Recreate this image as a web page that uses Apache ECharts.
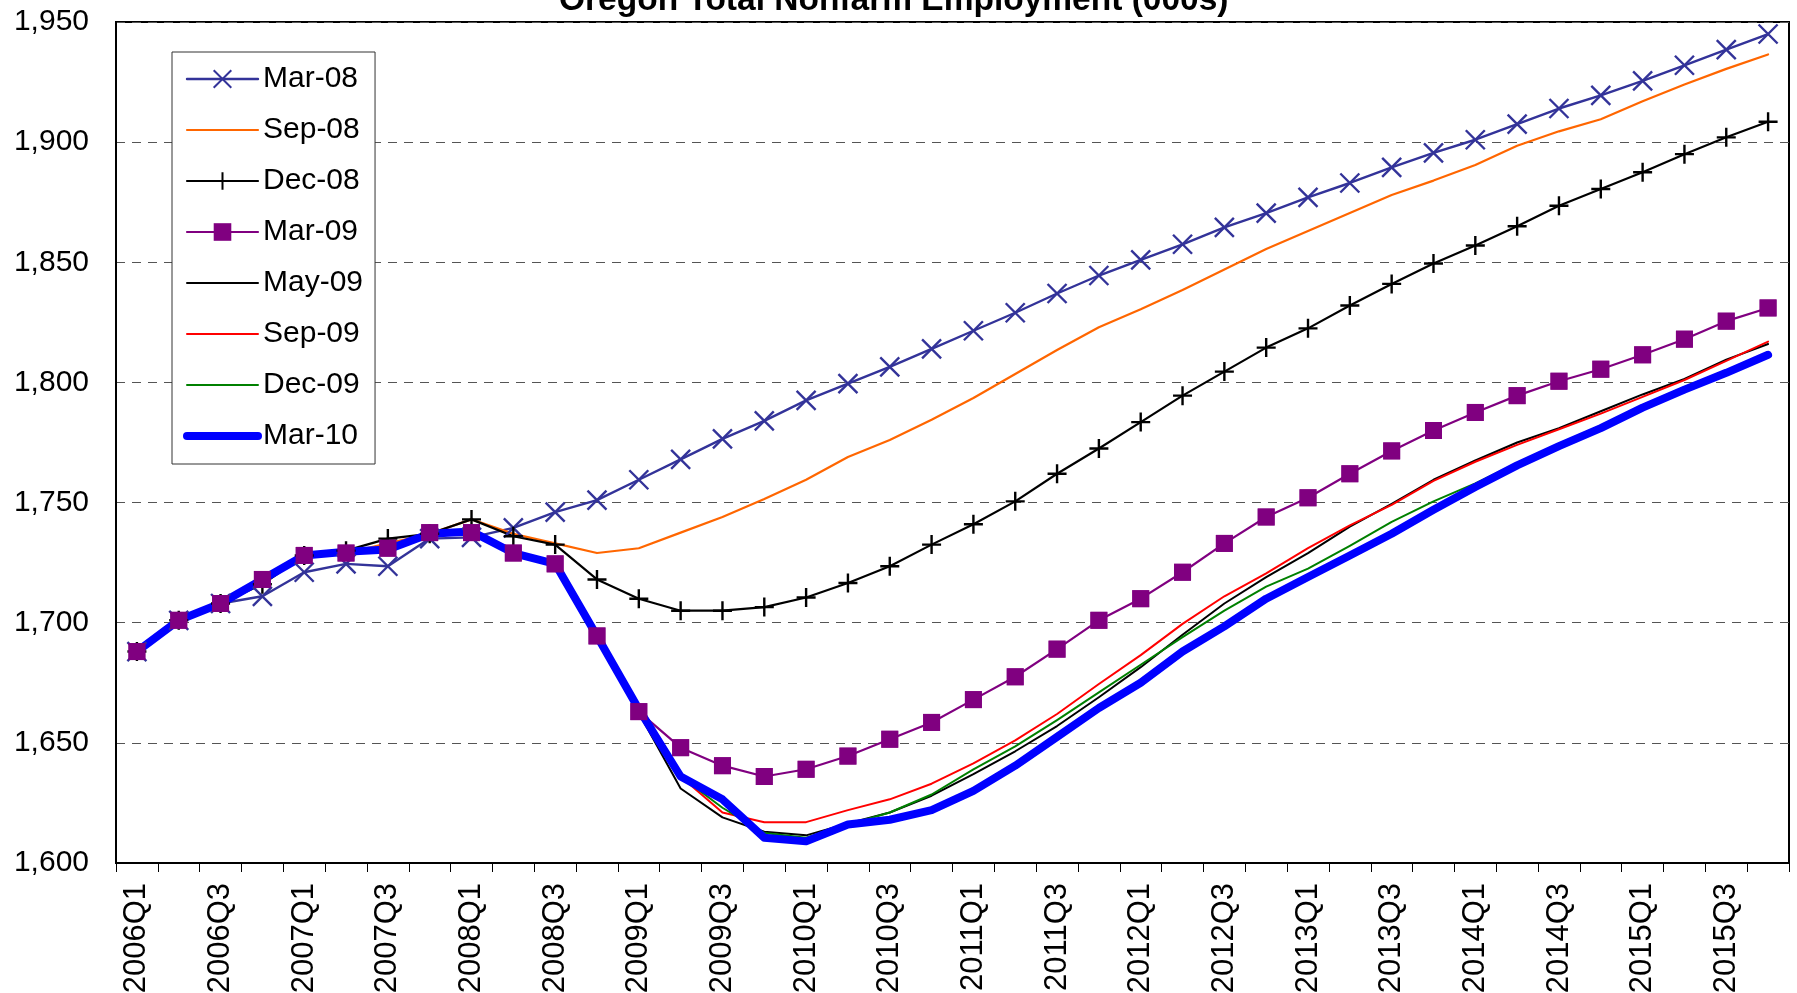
<!DOCTYPE html>
<html>
<head>
<meta charset="utf-8">
<script src="https://cdn.jsdelivr.net/npm/echarts@6/dist/echarts.min.js"></script>
<style>
  html, body { margin: 0; padding: 0; background: #fff; }
  #chart { width: 1797px; height: 993px; }
</style>
</head>
<body>
<div id="chart"></div>
<script>
// Quarterly categories
const quarters = [
  '2006Q1','2006Q2','2006Q3','2006Q4','2007Q1','2007Q2','2007Q3','2007Q4',
  '2008Q1','2008Q2','2008Q3','2008Q4','2009Q1','2009Q2','2009Q3','2009Q4',
  '2010Q1','2010Q2','2010Q3','2010Q4','2011Q1','2011Q2','2011Q3','2011Q4',
  '2012Q1','2012Q2','2012Q3','2012Q4','2013Q1','2013Q2','2013Q3','2013Q4',
  '2014Q1','2014Q2','2014Q3','2014Q4','2015Q1','2015Q2','2015Q3','2015Q4'
];

// Forecast vintages, thousands of jobs
const mar08 = [1688, 1701, 1708, 1711, 1721, 1724.5, 1723.5, 1735, 1735.5, 1739.5,
  1746, 1751, 1759.5, 1768, 1776.5, 1784, 1792.5, 1799.5, 1806.5, 1814,
  1821.5, 1829, 1837, 1844.5, 1851, 1857.5, 1864.5, 1870.5, 1877, 1883,
  1889.5, 1895.5, 1901, 1907.5, 1914, 1919.5, 1925.5, 1932, 1938.5, 1945];
const sep08 = [1688, 1701, 1708, 1717, 1728, 1729, 1733, 1737, 1743, 1737,
  1733, 1729, 1731, 1737.5, 1744, 1751.5, 1759.5, 1769, 1776, 1784.5,
  1793.5, 1803.5, 1813.5, 1823, 1830.5, 1838.5, 1847, 1855.5, 1863, 1870.5,
  1878, 1884, 1890.5, 1898.5, 1904.5, 1909.5, 1917, 1924, 1930.5, 1936.5];
const dec08 = [1688, 1701, 1708, 1716, 1728, 1730, 1735, 1737, 1743, 1736,
  1732.5, 1718, 1710, 1705, 1705, 1706.5, 1710.5, 1716.5, 1723.5, 1732.5,
  1741, 1750.5, 1762, 1772.5, 1783.5, 1794.5, 1804.5, 1814.5, 1822.5, 1832,
  1841, 1849.5, 1857, 1865, 1873.5, 1880.5, 1887.5, 1895, 1902, 1908.5];
const mar09 = [1688, 1701, 1708, 1718, 1728, 1729, 1731, 1737.5, 1737.5, 1729,
  1724.5, 1694.5, 1663, 1648, 1640.5, 1636, 1639, 1644.5, 1651.5, 1658.5,
  1668, 1677.5, 1689, 1701, 1710, 1721, 1733, 1744, 1752, 1762,
  1771.5, 1780, 1787.5, 1794.5, 1800.5, 1805.5, 1811.5, 1818, 1825.5, 1831];
const may09 = [1688, 1701, 1708, 1718, 1728, 1729, 1731, 1737, 1738, 1729,
  1724.5, 1694.5, 1662.5, 1631, 1619, 1613, 1611.5, 1616.5, 1621, 1628,
  1637, 1646.5, 1657, 1669, 1681.5, 1695, 1708, 1719, 1729, 1740,
  1749.5, 1759.5, 1767.5, 1775, 1781, 1788, 1795, 1801.5, 1809.5, 1816];
const sep09 = [1688, 1701, 1708, 1718, 1728, 1729, 1731, 1737, 1738, 1729,
  1724.5, 1694.5, 1663.5, 1636, 1621, 1617, 1617, 1622, 1626.5, 1633,
  1641.5, 1651, 1662, 1674.5, 1686.5, 1699.5, 1711, 1720.5, 1731, 1740.5,
  1749, 1759, 1767, 1774, 1780.5, 1787, 1794, 1801, 1809, 1817];
const dec09 = [1688, 1701, 1708, 1718, 1728, 1729, 1731, 1737, 1738, 1729,
  1724.5, 1694.5, 1663.5, 1636, 1623, 1612.5, 1610.5, 1616, 1621, 1628.5,
  1639, 1648.5, 1659.5, 1671, 1682.5, 1694, 1705, 1715, 1722.5, 1732,
  1742, 1750.5, 1758, 1766.5, 1774.5, 1782, 1790.5, 1798, 1805, 1812.5];
const mar10 = [1688, 1701, 1708, 1718, 1728, 1729.5, 1730.5, 1737, 1738, 1729,
  1724.5, 1694.5, 1664, 1636, 1626.5, 1610.5, 1609, 1616, 1618, 1622,
  1630, 1640.5, 1652.5, 1664.5, 1675, 1688, 1698.5, 1710, 1719, 1728,
  1737, 1747, 1756.5, 1765.5, 1773.5, 1781, 1789.5, 1797, 1804, 1811.5];

const seriesNames = ['Mar-08', 'Sep-08', 'Dec-08', 'Mar-09', 'May-09', 'Sep-09', 'Dec-09', 'Mar-10'];
const forecastStart = '2010Q1';

const FONT = "'Liberation Sans', Arial, sans-serif";
const CROSS = 'path://M0,0L1,1M1,0L0,1';
const PLUS = 'path://M0.5,0L0.5,1M0,0.5L1,0.5';

function line(name, data, color, width, symbol, size, z) {
  const s = {
    name: name,
    type: 'line',
    data: data,
    color: color,
    z: z,
    lineStyle: { color: color, width: width, cap: 'round', join: 'round' },
    symbol: symbol || 'none',
    symbolSize: size || 0,
    showSymbol: !!symbol,
    itemStyle: { color: color, borderColor: color, borderWidth: 0 },
    emphasis: { disabled: true },
    animation: false
  };
  if (symbol === CROSS || symbol === PLUS) {
    s.itemStyle.borderWidth = 2.4;
  }
  return s;
}

const seriesList = [
  line('Mar-08', mar08, '#333399', 2.4, CROSS, 19, 2),
  line('Sep-08', sep08, '#FF6600', 2.2, null, 0, 2),
  line('Dec-08', dec08, '#000000', 2.2, PLUS, 19, 2),
  line('Mar-09', mar09, '#800080', 2.2, 'rect', 17, 2),
  line('May-09', may09, '#000000', 2, null, 0, 2),
  line('Sep-09', sep09, '#FF0000', 2, null, 0, 2),
  line('Dec-09', dec09, '#008000', 2, null, 0, 2),
  line('Mar-10', mar10, '#0000FF', 8, null, 0, 2)
];

// Legend entries: plain lines carry no marker, widths follow their series
const legendItems = seriesList.map(function (s) {
  const item = { name: s.name, lineStyle: { width: s.lineStyle.width, color: s.lineStyle.color, cap: 'round' } };
  if (s.symbol === 'none') {
    item.itemStyle = { opacity: 0 };
  }
  return item;
});

const chart = echarts.init(document.getElementById('chart'), null, { renderer: 'canvas' });

chart.setOption({
  backgroundColor: '#ffffff',
  animation: false,
  title: {
    text: 'Oregon Total Nonfarm Employment (000s)',
    left: 559,
    top: -16,
    padding: 0,
    textStyle: { fontFamily: FONT, fontSize: 33.5, fontWeight: 'bold', color: '#000' }
  },
  legend: {
    data: legendItems,
    orient: 'vertical',
    left: 172,
    top: 52,
    padding: [12, 12, 13, 11],
    itemWidth: 71,
    itemHeight: 22,
    itemGap: 21,
    backgroundColor: '#ffffff',
    borderColor: '#333',
    borderWidth: 1,
    borderRadius: 0,
    selectedMode: false,
    textStyle: { fontFamily: FONT, fontSize: 30, color: '#000', lineHeight: 30 }
  },
  grid: {
    left: 116, right: 8, top: 22, bottom: 130,
    show: true,
    borderColor: '#000',
    borderWidth: 2,
    backgroundColor: 'transparent',
    containLabel: false,
    outerBoundsMode: 'none'
  },
  xAxis: {
    type: 'category',
    data: quarters,
    boundaryGap: true,
    axisLine: { show: true, lineStyle: { color: '#000', width: 2 } },
    axisTick: { show: true, interval: 0, length: 9, lineStyle: { color: '#000', width: 1 } },
    axisLabel: {
      interval: 1,
      rotate: 90,
      margin: 20,
      fontFamily: FONT,
      fontSize: 31,
      color: '#000'
    },
    splitLine: {
      show: true,
      interval: function (index, value) { return value === forecastStart; },
      lineStyle: { color: '#000', width: 1, type: 'solid' }
    }
  },
  yAxis: {
    type: 'value',
    min: 1600,
    max: 1950,
    interval: 50,
    axisLine: { show: true, lineStyle: { color: '#000', width: 2 } },
    axisTick: { show: false },
    axisLabel: {
      margin: 27,
      fontFamily: FONT,
      fontSize: 30,
      color: '#000',
      formatter: function (v) { return v.toLocaleString('en-US'); }
    },
    splitLine: { show: true, lineStyle: { color: '#555', width: 1, type: [9, 7] } }
  },
  tooltip: { show: false },
  series: seriesList.concat([
    {
      // square markers of the Mar-09 vintage drawn above every line
      name: 'Mar-09 markers',
      type: 'scatter',
      data: mar09,
      symbol: 'rect',
      symbolSize: 17,
      itemStyle: { color: '#800080' },
      z: 5,
      silent: true,
      emphasis: { disabled: true },
      animation: false
    }
  ])
});
</script>
</body>
</html>
